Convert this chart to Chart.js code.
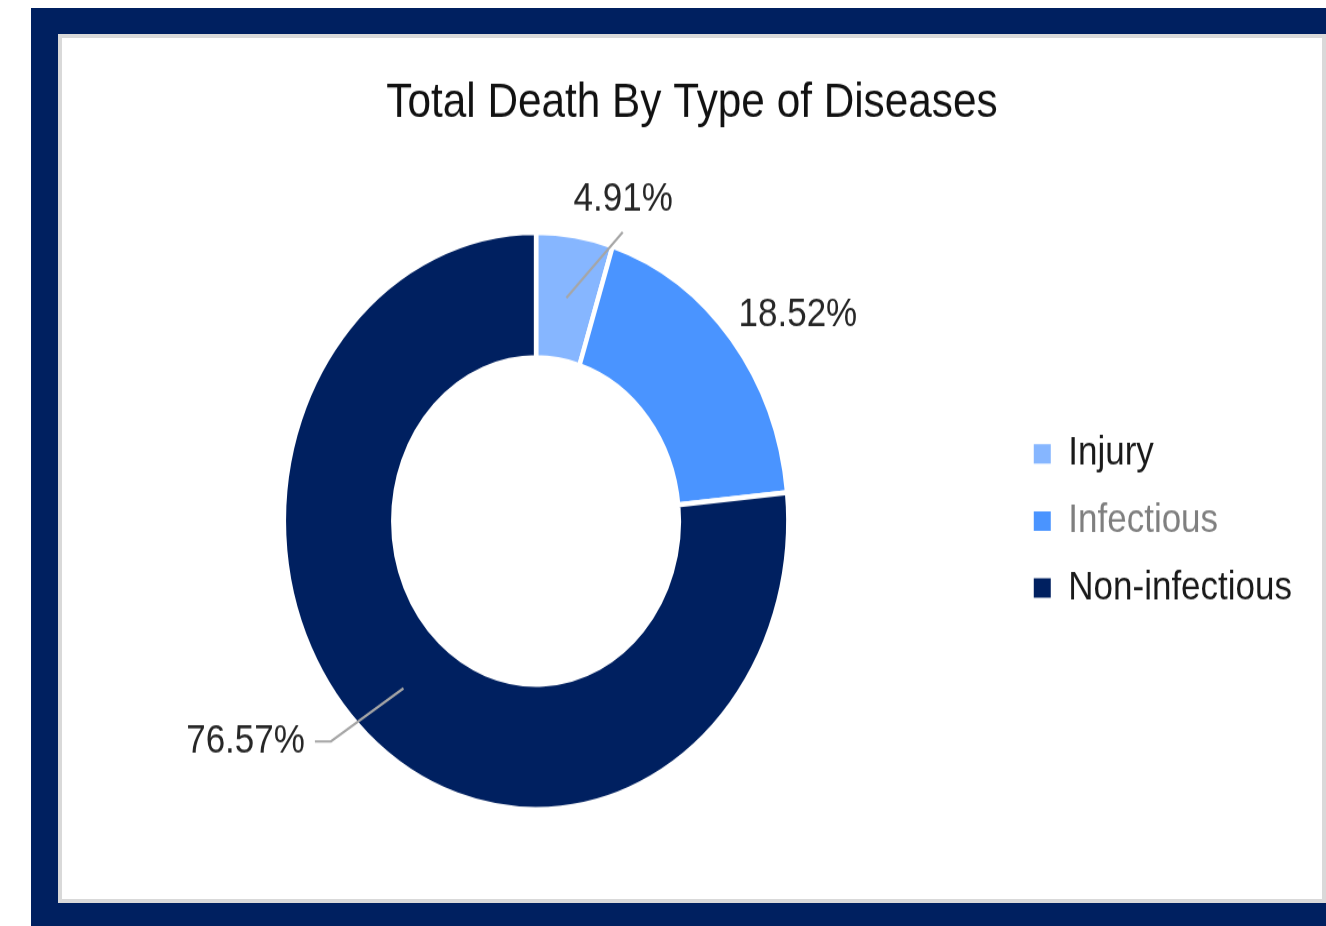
<!DOCTYPE html>
<html>
<head>
<meta charset="utf-8">
<title>Total Death By Type of Diseases</title>
<script src="https://cdn.jsdelivr.net/npm/chart.js@4.4.1/dist/chart.umd.min.js"></script>
<style>
  html, body { margin: 0; padding: 0; background: #fff; width: 1326px; height: 926px; overflow: hidden; }
  .frame { position: absolute; left: 31px; top: 8px; width: 1300px; height: 918px; background: #002060; }
  .panel { position: absolute; left: 58px; top: 34px; width: 1268px; height: 869px; box-sizing: border-box;
           border: 4px solid #d9d9d9; background: #fff; overflow: hidden; }
  /* the chart is drawn on a canvas that is stretched vertically */
  .stretch { position: absolute; left: 0; top: 0; width: 1260px; height: 753px;
             transform: scale(1, 1.1434); transform-origin: 0 0; }
</style>
</head>
<body>
<div class="frame"></div>
<div class="panel">
  <div class="stretch"><canvas id="chart" width="1260" height="753"></canvas></div>
</div>
<script>
const categories = ['Injury', 'Infectious', 'Non-infectious'];
const deathShares = [4.91, 18.52, 76.57];
const sliceColors = ['#86B6FF', '#4A94FF', '#002060'];
const legendTextColors = ['#1a1a1a', '#7f7f7f', '#1a1a1a'];

const FONT = '"Liberation Sans", Arial, sans-serif';

// where each percentage label sits: angles are degrees clockwise from the slice middle
const labelPlacement = [
  { textAngle: 8.4, textRadius: 294, leaderAngle: 10.1, leaderRadius: 267, tail: 0, align: 'center' },
  { textAngle: 4.4, textRadius: 318, leaderAngle: null, leaderRadius: 0, tail: 0, align: 'center' },
  { textAngle: 0, textRadius: 0, leaderAngle: 4.6, leaderRadius: 281.6, tail: -16, align: 'right' }
];

// extra room to the right of the legend
const legendRightMargin = 20;

const legendGutter = {
  id: 'legendGutter',
  beforeLayout(chart) {
    const legend = chart.legend;
    if (legend && !legend.$gutter) {
      const fit = legend.fit.bind(legend);
      legend.fit = function () { fit(); this.width += legendRightMargin; };
      legend.$gutter = true;
    }
  }
};

const sliceLabels = {
  id: 'sliceLabels',
  afterDatasetsDraw(chart) {
    const ctx = chart.ctx;
    const meta = chart.getDatasetMeta(0);
    const values = chart.data.datasets[0].data;
    ctx.save();
    ctx.font = '35px ' + FONT;
    ctx.textBaseline = 'middle';
    meta.data.forEach((arc, i) => {
      const p = arc.getProps(['x', 'y', 'startAngle', 'endAngle', 'innerRadius', 'outerRadius'], true);
      const mid = (p.startAngle + p.endAngle) / 2;
      const polar = (deg, r) => {
        const a = mid + deg * Math.PI / 180;
        return [p.x + Math.cos(a) * r, p.y + Math.sin(a) * r];
      };
      const place = labelPlacement[i];
      const text = values[i].toFixed(2) + '%';
      let tx, ty;
      if (place.leaderAngle !== null) {
        const start = polar(0, (p.innerRadius + p.outerRadius) / 2);
        const elbow = polar(place.leaderAngle, place.leaderRadius);
        ctx.beginPath();
        ctx.strokeStyle = '#a6a6a6';
        ctx.lineWidth = 2.2;
        ctx.moveTo(start[0], start[1]);
        ctx.lineTo(elbow[0], elbow[1]);
        if (place.tail) ctx.lineTo(elbow[0] + place.tail, elbow[1]);
        ctx.stroke();
        if (place.tail) {
          tx = elbow[0] + place.tail - 10;
          ty = elbow[1];
        }
      }
      if (tx === undefined) {
        [tx, ty] = polar(place.textAngle, place.textRadius);
      }
      ctx.fillStyle = '#262626';
      ctx.textAlign = place.align;
      ctx.fillText(text, tx, ty);
    });
    ctx.restore();
  }
};

new Chart(document.getElementById('chart'), {
  type: 'doughnut',
  data: {
    labels: categories,
    datasets: [{
      data: deathShares,
      backgroundColor: sliceColors,
      borderColor: '#ffffff',
      borderWidth: 4.5,
      hoverBorderWidth: 4.5,
      offset: 0,
      hoverOffset: 0
    }]
  },
  options: {
    responsive: false,
    devicePixelRatio: 1,
    animation: false,
    cutout: '56.6%',
    layout: { padding: { top: 0, left: 0, right: 0, bottom: 76.1 } },
    plugins: {
      tooltip: { enabled: false },
      title: {
        display: true,
        text: 'Total Death By Type of Diseases',
        color: '#111111',
        font: { family: FONT, size: 42.3, weight: 'normal' },
        padding: { top: 32, bottom: 85.1 }
      },
      legend: {
        display: true,
        position: 'right',
        fullSize: false,
        labels: {
          font: { family: FONT, size: 35 },
          boxWidth: 17,
          boxHeight: 17,
          padding: 23.6,
          generateLabels(chart) {
            const base = Chart.overrides.doughnut.plugins.legend.labels.generateLabels(chart);
            return base.map((item, i) => Object.assign(item, {
              lineWidth: 0,
              strokeStyle: 'rgba(0,0,0,0)',
              fontColor: legendTextColors[i]
            }));
          }
        }
      }
    }
  },
  plugins: [legendGutter, sliceLabels]
});
</script>
</body>
</html>
